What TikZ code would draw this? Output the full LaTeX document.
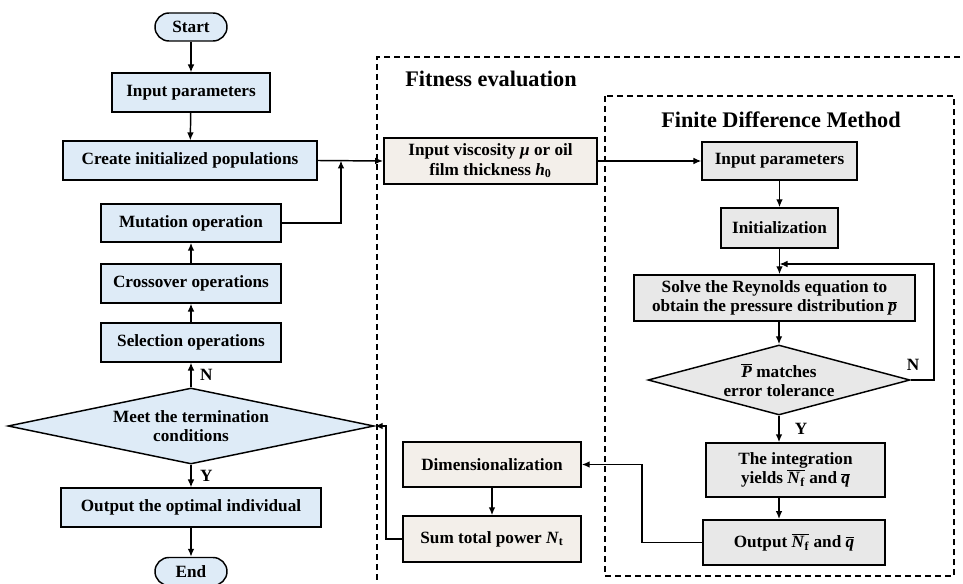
\documentclass[tikz,border=0pt]{standalone}
\usepackage{fontspec}
\setmainfont{Liberation Serif}
\usepackage{xcolor}
\usepackage{tikz}
\usetikzlibrary{shapes.geometric,arrows.meta,positioning}

\definecolor{gablue}{RGB}{222,235,247}
\definecolor{fitbeige}{RGB}{243,239,234}
\definecolor{fdmgray}{RGB}{232,232,232}

\newcommand{\barsym}[1]{$\overline{\mbox{#1}}$}
\newcommand{\bi}[1]{\textbf{\textit{#1}}}

\tikzset{
  txt/.style={font=\bfseries\fontsize{12.9}{14.6}\selectfont, align=center},
  box/.style={txt, draw, line width=1.1pt, inner sep=1pt},
  gabox/.style={box, fill=gablue},
  fitbox/.style={box, fill=fitbeige},
  fdmbox/.style={box, fill=fdmgray},
  term/.style={gabox, rounded corners=10.5pt, minimum width=54pt, minimum height=21pt},
  decide/.style={txt, diamond, draw, line width=1.1pt, inner sep=0pt},
  arr/.style={-{Latex[length=6pt,width=5pt]}, line width=1.1pt},
  region/.style={line width=1pt, dash pattern=on 4.5pt off 3pt},
  tag/.style={font=\bfseries\fontsize{12.9}{14.6}\selectfont},
  heading/.style={font=\bfseries\fontsize{16.7}{18}\selectfont}
}

\begin{document}
\begin{tikzpicture}[x=0.75pt, y=-0.75pt]
    \useasboundingbox (0,0) rectangle (963,584);

    % Regions
    \draw[region] (980,57) -- (377,57) -- (377,592);
    \draw[region] (605,96) rectangle (954,576);
    \node[heading] (fithead) at (491,79) {Fitness evaluation};
    \node[heading] (fdmhead) at (781,120) {Finite Difference Method};

    % Genetic algorithm column
    \node[term] (start) at (191,27) {Start};
    \node[gabox, minimum width=118.5pt, minimum height=29pt] (inp) at (191,92.5) {Input parameters};
    \node[gabox, minimum width=190.5pt, minimum height=29pt] (create) at (190,160.5) {Create initialized populations};
    \node[gabox, minimum width=135pt, minimum height=28.5pt] (mut) at (191,223) {Mutation operation};
    \node[gabox, minimum width=135pt, minimum height=29pt] (cross) at (191,283.5) {Crossover operations};
    \node[gabox, minimum width=135pt, minimum height=29pt] (sel) at (191,342.5) {Selection operations};
    \node[decide, fill=gablue, aspect=4.8, minimum width=274.5pt, minimum height=57pt] (stop) at (191,426)
        {Meet the termination\\conditions};
    \node[gabox, minimum width=195pt, minimum height=29pt] (best) at (191,507.5) {Output the optimal individual};
    \node[term] (finish) at (191,571.5) {End};

    % Fitness evaluation
    \node[fitbox, minimum width=160pt, minimum height=34.5pt] (visc) at (490.5,161)
        {Input viscosity \bi{μ} or oil\\film thickness \bi{h}\textsubscript{0}};
    \node[fitbox, minimum width=133.5pt, minimum height=34pt] (dimz) at (492,464.5) {Dimensionalization};
    \node[fitbox, minimum width=133.5pt, minimum height=34.5pt] (power) at (492,539)
        {Sum total power \bi{N}\textsubscript{t}};

    % Finite difference method
    \node[fdmbox, minimum width=116pt, minimum height=28.5pt] (fdin) at (779.5,161) {Input parameters};
    \node[fdmbox, minimum width=88pt, minimum height=30pt] (init) at (779.5,228) {Initialization};
    \node[fdmbox, minimum width=211pt, minimum height=34.5pt] (solve) at (774.5,298)
        {Solve the Reynolds equation to\\obtain the pressure distribution \barsym{\bi{p}}};
    \node[decide, fill=fdmgray, aspect=3.7, minimum width=196.5pt, minimum height=52.5pt] (check) at (779,380)
        {\barsym{\bi{P}} matches\\error tolerance};
    \node[fdmbox, minimum width=134pt, minimum height=40.5pt] (integ) at (795.5,470)
        {The integration\\yields \barsym{\bi{N}\textsubscript{\textbf{f}}} and \barsym{\bi{q}}};
    \node[fdmbox, minimum width=136.5pt, minimum height=34pt] (fdout) at (794,542.5)
        {Output \barsym{\bi{N}\textsubscript{\textbf{f}}} and \barsym{\bi{q}}};

    % Helper points
    \coordinate (join) at (341,160.5);
    \coordinate (loop) at (934,264);
    \coordinate (back) at (642,464.5);
    \coordinate (ret) at (386,426);

    % Connectors, left column
    \draw[arr] (start) -- (inp);
    \draw[arr] (inp) -- (create);
    \draw[arr] (create.east) -- (visc.west);
    \draw[arr] (mut.east) -| (join);
    \draw[arr] (cross) -- (mut);
    \draw[arr] (sel) -- (cross);
    \draw[arr] (stop.north) -- (sel.south) node[tag, midway, right=3pt] (nleft) {N};
    \draw[arr] (stop.south) -- (best.north) node[tag, midway, right=3pt] (yleft) {Y};
    \draw[arr] (best) -- (finish);

    % Connectors, right side
    \draw[arr] (visc.east) -- (fdin.west);
    \draw[arr] (fdin.south) -- (fdin.south |- init.north);
    \draw[arr] (init.south) -- (init.south |- solve.north);
    \draw[arr] (check.north |- solve.south) -- (check.north);
    \draw[arr] (check.east) -| (loop) -- (init.south |- loop);
    \node[tag] (nright) at (913,365) {N};
    \draw[arr] (check.south) -- (check.south |- integ.north) node[tag, midway, right=8pt] (yright) {Y};
    \draw[arr] (check.south |- integ.south) -- (check.south |- fdout.north);
    \draw[arr] (fdout.west) -| (back) -- (dimz.east);
    \draw[arr] (dimz) -- (power);
    \draw[arr] (power.west) -| (ret) -- (stop.east);
\end{tikzpicture}
\end{document}
